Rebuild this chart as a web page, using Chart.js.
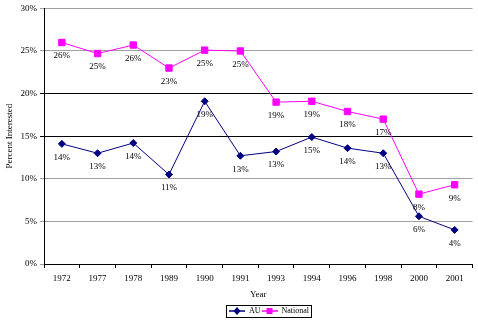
<!DOCTYPE html>
<html><head><meta charset="utf-8">
<script src="https://cdn.jsdelivr.net/npm/chart.js@4/dist/chart.umd.min.js"></script>
<style>html,body{margin:0;padding:0;background:#fff}#wrap{width:478px;height:323px}</style>
</head><body><div id="wrap"><canvas id="c" width="478" height="323"></canvas></div>
<script>
const years = ['1972','1977','1978','1989','1990','1991','1993','1994','1996','1998','2000','2001'];
const auValues = [14.1, 13.0, 14.2, 10.5, 19.1, 12.7, 13.2, 14.9, 13.6, 13.0, 5.6, 4.0];
const nationalValues = [26.0, 24.7, 25.7, 23.0, 25.1, 25.0, 19.0, 19.1, 17.9, 17.0, 8.2, 9.3];
const auLabels = ['14%','13%','14%','11%','19%','13%','13%','15%','14%','13%','6%','4%'];
const nationalLabels = ['26%','25%','26%','23%','25%','25%','19%','19%','18%','17%','8%','9%'];
const yTicks = [0,5,10,15,20,25,30];

const FONT = 'Liberation Serif';

function legendIcon(color, style){
  const c = document.createElement('canvas');
  c.width = 16; c.height = 10;
  const g = c.getContext('2d');
  g.strokeStyle = color; g.lineWidth = 1.5;
  g.beginPath(); g.moveTo(0,5); g.lineTo(16,5); g.stroke();
  g.fillStyle = color;
  if (style === 'diamond'){
    g.beginPath(); g.moveTo(8,1); g.lineTo(11.5,5); g.lineTo(8,9); g.lineTo(4.5,5); g.closePath(); g.fill();
  } else {
    g.fillRect(5,2,6,6);
  }
  return c;
}

const labelPlugin = {
  id:'valueLabels',
  afterLayout(chart){
    const lg = chart.legend;
    if (lg){ lg.left += 31; lg.right += 31; lg.top += 2; lg.bottom += 2; }
  },
  afterDatasetsDraw(chart){
    const ctx = chart.ctx;
    ctx.save();
    ctx.font = '9px "'+FONT+'"';
    ctx.fillStyle = '#000';
    ctx.textAlign = 'center';
    ctx.textBaseline = 'top';
    const sets = [auLabels, nationalLabels];
    chart.data.datasets.forEach((ds, i) => {
      const meta = chart.getDatasetMeta(i);
      meta.data.forEach((pt, j) => {
        ctx.fillText(sets[i][j], pt.x, pt.y + 9);
      });
    });
    ctx.restore();
  },
  afterDraw(chart){
    const lg = chart.legend;
    if (!lg || !lg.legendHitBoxes || !lg.legendHitBoxes.length) return;
    const boxes = lg.legendHitBoxes;
    let l = Infinity, t = Infinity, r = -Infinity, b = -Infinity;
    boxes.forEach(h => { l = Math.min(l,h.left); t = Math.min(t,h.top); r = Math.max(r,h.left+h.width); b = Math.max(b,h.top+h.height); });
    const ctx = chart.ctx;
    ctx.save();
    ctx.strokeStyle = '#000'; ctx.lineWidth = 1;
    const cy = (t+b)/2;
    ctx.strokeRect(Math.round(l-3)+0.5, Math.round(cy-6)+0.5, Math.round(r-l+5), 12);
    ctx.restore();
  }
};

new Chart(document.getElementById('c'), {
  type:'line',
  data:{
    labels: years,
    datasets:[
      {label:'AU', data:auValues, borderColor:'#000080', backgroundColor:'#000080', borderWidth:1,
       pointStyle:'rectRot', pointRadius:3.5, pointHoverRadius:3.5, tension:0},
      {label:'National', data:nationalValues, borderColor:'#FF00FF', backgroundColor:'#FF00FF', borderWidth:1,
       pointStyle:'rect', pointRadius:4.5, pointHoverRadius:4.5, tension:0}
    ]
  },
  options:{
    responsive:false, animation:false, devicePixelRatio:1,
    layout:{padding:{top:-1,right:2,left:0,bottom:0}},
    plugins:{
      legend:{
        position:'bottom',
        labels:{
          font:{family:FONT,size:8}, color:'#000', boxWidth:16, boxHeight:10, padding:1,
          usePointStyle:true, pointStyleWidth:16,
          generateLabels(chart){
            return chart.data.datasets.map((ds,i)=>({
              text:ds.label, fillStyle:ds.borderColor, strokeStyle:ds.borderColor, lineWidth:0,
              pointStyle: legendIcon(ds.borderColor, i===0?'diamond':'square'),
              datasetIndex:i, hidden:false, fontColor:'#000'
            }));
          }
        }
      },
      tooltip:{enabled:false}
    },
    scales:{
      x:{
        offset:true,
        afterFit(scale){ scale.height = 40; },
        grid:{offset:true, drawOnChartArea:false, tickLength:4, color:'#000'},
        border:{color:'#000', width:1},
        ticks:{font:{family:FONT,size:9}, color:'#000', maxRotation:0, autoSkip:false, padding:5},
        title:{display:true, text:'Year', font:{family:FONT,size:9}, color:'#000', padding:{top:4,bottom:4}}
      },
      y:{
        min:0, max:30,
        afterBuildTicks(scale){ scale.ticks = yTicks.map(v=>({value:v})); },
        afterFit(scale){ scale.width = 44; },
        grid:{
          color(ctx){ const v = ctx.tick && ctx.tick.value; return (v===15||v===20)?'#000':'#a0a0a0'; },
          lineWidth:1, tickLength:4, drawTicks:true
        },
        border:{color:'#000', width:1},
        ticks:{font:{family:FONT,size:9}, color:'#000', padding:3, callback:v=>v+'%'},
        title:{display:true, text:'Percent Interested', font:{family:FONT,size:9}, color:'#000', padding:{top:4,bottom:4}}
      }
    }
  },
  plugins:[labelPlugin]
});
</script>
</body></html>
